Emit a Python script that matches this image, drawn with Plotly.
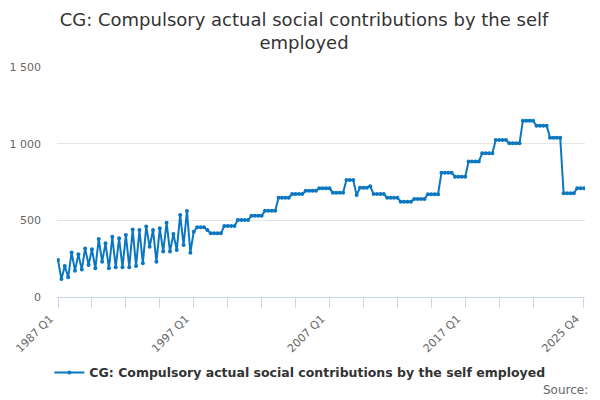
import plotly.graph_objects as go

# quarterly series, 1987 Q1 .. 2025 Q4 (£ million)
start_year = 1987
end_year = 2025
quarters = [f"{y} Q{q}" for y in range(start_year, end_year + 1) for q in range(1, 5)]

values = [
    241, 117, 202, 128, 291, 172, 278, 180, 317, 209,
    311, 187, 378, 230, 350, 187, 393, 194, 383, 194,
    404, 194, 441, 202, 437, 220, 459, 328, 437, 230,
    448, 296, 485, 296, 411, 307, 535, 339, 561, 289,
    426, 455, 455, 455, 437, 415, 415, 415, 415, 463,
    463, 463, 463, 502, 502, 502, 502, 530, 530, 530,
    530, 563, 563, 563, 563, 648, 648, 648, 648, 672,
    672, 672, 672, 693, 693, 693, 693, 709, 709, 709,
    709, 680, 680, 680, 680, 763, 763, 763, 665, 713,
    713, 713, 722, 672, 672, 672, 672, 648, 648, 648,
    648, 622, 622, 622, 622, 639, 639, 639, 639, 670,
    670, 670, 670, 811, 811, 811, 811, 785, 785, 785,
    785, 883, 883, 883, 883, 937, 937, 937, 937, 1024,
    1024, 1024, 1024, 1002, 1002, 1002, 1002, 1150, 1150, 1150,
    1150, 1117, 1117, 1117, 1117, 1039, 1039, 1039, 1039, 676,
    676, 676, 676, 709, 709, 709,
]

series_name = "CG: Compulsory actual social contributions by the self employed"
labelled_ticks = ["1987 Q1", "1997 Q1", "2007 Q1", "2017 Q1", "2025 Q4"]
tick_marks = quarters[0:150:10] + [quarters[-1]]
y_ticks = [0, 500, 1000, 1500]

# the page body has an 8px margin, so the figure is drawn 8px smaller
W, H = 592, 392

fig = go.Figure()
fig.add_trace(go.Scatter(
    x=quarters, y=values,
    mode='lines+markers',
    name=f"<b>{series_name}</b>",
    line=dict(color='#0b77c2', width=2),
    marker=dict(color='#0b77c2', size=4),
))

fig.update_layout(
    width=W, height=H,
    paper_bgcolor='white',
    plot_bgcolor='white',
    font=dict(family='DejaVu Sans', color='#333333'),
    separators='. ',
    title=dict(
        text="CG: Compulsory actual social contributions by the self<br>employed",
        font=dict(size=18, color='#333333'),
        x=0.5, xanchor='center',
        y=0.955, yanchor='middle', yref='container',
    ),
    margin=dict(l=49, r=15, t=59, b=103),
    showlegend=True,
    legend=dict(
        orientation='h',
        x=0.493, xanchor='center', xref='container',
        y=0.069, yanchor='middle', yref='container',
        font=dict(size=12.5, color='#333333', family='DejaVu Sans'),
    ),
    annotations=[dict(
        text="Source:", showarrow=False,
        xref='paper', yref='paper',
        x=1.01, xanchor='right',
        y=-0.404, yanchor='middle',
        font=dict(size=12, color='#666666'),
    )],
)

fig.update_xaxes(
    type='category',
    automargin=False,
    range=[-0.3, len(quarters) - 0.7],
    tickmode='array',
    tickvals=tick_marks,
    ticktext=[t if t in labelled_ticks else "" for t in tick_marks],
    tickangle=-45,
    ticklabelshift=-8,
    ticks='outside', ticklen=10, tickcolor='#ccd6eb',
    tickfont=dict(size=11, color='#666666'),
    showline=True, linecolor='#ccd6eb', linewidth=1,
    showgrid=False, zeroline=False,
)

fig.update_yaxes(
    automargin=False,
    range=[0, 1500],
    tickvals=y_ticks,
    tickformat=',',
    tickfont=dict(size=11, color='#666666'),
    gridcolor='#e6e6e6',
    showline=False, zeroline=False,
    ticks='', ticklabelstandoff=15,
)

fig.write_html("out.html")
